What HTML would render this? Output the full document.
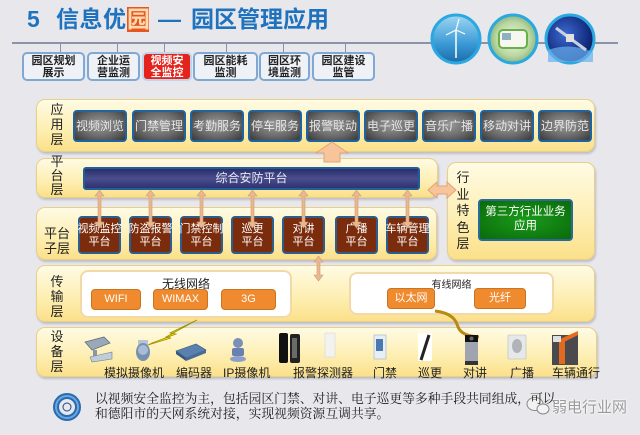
<!DOCTYPE html>
<html><head><meta charset="utf-8">
<style>
*{margin:0;padding:0;box-sizing:border-box}
body{width:640px;height:435px;background:#e8e8ec;position:relative;overflow:hidden;font-family:"Liberation Sans","Noto Sans CJK SC",sans-serif}
.a{position:absolute}
.tt{position:absolute;top:4px;font-size:23px;font-weight:bold;color:#1f72bd;white-space:nowrap;line-height:30px}
.tab{position:absolute;top:52px;height:29px;background:#eef2f7;border:2px solid #80a8d4;border-radius:5px;font-size:11px;font-weight:bold;color:#222;text-align:center;line-height:12px;padding-top:1px}
.tab.red{background:#e4231c;color:#fff;border-color:#c0d4ea}
.tick{position:absolute;top:42px;width:1px;height:10px;background:#8a93a8}
.layer{position:absolute;border-radius:9px;background:linear-gradient(#fffbe4,#fdeeb0 60%,#fbe08a);border:1px solid #e6d08c;box-shadow:1px 2px 2px rgba(0,0,0,0.18)}
.vl{position:absolute;font-size:13px;color:#222;text-align:center;width:16px;line-height:15px}
.app{position:absolute;top:110px;width:54px;height:32px;border:2px solid #1f64a0;border-radius:4px;background:radial-gradient(ellipse at 50% 45%,#9a9a9a 0%,#6a6a6a 55%,#383838 100%);color:#e6e6e6;font-size:12px;text-align:center;line-height:28px;white-space:nowrap;overflow:visible}
.sub{position:absolute;top:216px;width:43px;height:38px;border:2px solid #2b5e8e;border-radius:4px;background:#7b2c0c;color:#fff;font-size:11px;text-align:center;line-height:13px;padding-top:5px;white-space:nowrap;display:flex;flex-direction:column;align-items:center}
.or{position:absolute;height:21px;background:#f08a2e;border:1px solid #c9741f;border-radius:4px;color:#fff;font-size:11px;text-align:center;line-height:19px}
.dev{position:absolute;top:364px;font-size:12px;color:#222;white-space:nowrap}
.wbox{position:absolute;background:#fff;border:2px solid #f3d9a8;border-radius:8px}
</style></head><body>

<div class="tt" style="left:27px">5</div>
<div class="tt" style="left:56px;letter-spacing:0.5px">信息优</div>
<div class="tt" style="left:127px;width:22px;text-align:center;background:#e8551e;color:#ffd9b0;line-height:24px;top:7px;height:25px">园</div>
<div class="tt" style="left:157px;width:25px;text-align:center;overflow:hidden">—</div>
<div class="tt" style="left:191px;letter-spacing:0px">园区管理应用</div>

<div class="a" style="left:12px;top:42px;width:606px;height:2px;background:#8a93a8"></div>
<div class="tick" style="left:60px"></div>
<div class="tick" style="left:117px"></div>
<div class="tick" style="left:164px"></div>
<div class="tick" style="left:226px"></div>
<div class="tick" style="left:283px"></div>
<div class="tick" style="left:345px"></div>

<div class="tab" style="left:22px;width:63px">园区规划<br>展示</div>
<div class="tab" style="left:87px;width:53px">企业运<br>营监测</div>
<div class="tab red" style="left:142px;width:50px">视频安<br>全监控</div>
<div class="tab" style="left:193px;width:65px">园区能耗<br>监测</div>
<div class="tab" style="left:259px;width:51px">园区环<br>境监测</div>
<div class="tab" style="left:312px;width:63px">园区建设<br>监管</div>

<!-- circles -->
<svg class="a" style="left:425px;top:10px" width="180" height="62" viewBox="425 10 180 62">
 <defs>
  <linearGradient id="sky" x1="0" y1="0" x2="0" y2="1"><stop offset="0" stop-color="#9fd6f2"/><stop offset="0.6" stop-color="#3a9ad6"/><stop offset="1" stop-color="#1a6aa8"/></linearGradient>
  <radialGradient id="bus" cx="0.5" cy="0.5" r="0.6"><stop offset="0" stop-color="#f4f6ee"/><stop offset="0.6" stop-color="#b9d6a0"/><stop offset="1" stop-color="#6aa06a"/></radialGradient>
  <radialGradient id="sat" cx="0.4" cy="0.4" r="0.7"><stop offset="0" stop-color="#3a6ad0"/><stop offset="0.7" stop-color="#142c80"/><stop offset="1" stop-color="#0a1650"/></radialGradient>
 </defs>
 <circle cx="456" cy="39" r="24" fill="url(#sky)" stroke="#2aa8e0" stroke-width="3"/>
 <line x1="456" y1="30" x2="456" y2="58" stroke="#fff" stroke-width="1.5"/>
 <line x1="456" y1="30" x2="446" y2="35" stroke="#fff" stroke-width="1.2"/>
 <line x1="456" y1="30" x2="459" y2="19" stroke="#fff" stroke-width="1.2"/>
 <line x1="456" y1="30" x2="465" y2="34" stroke="#fff" stroke-width="1.2"/>
 <circle cx="513" cy="39" r="24" fill="url(#bus)" stroke="#2aa8e0" stroke-width="3"/>
 <rect x="499" y="30" width="28" height="18" rx="4" fill="#f6f8f0" stroke="#6ab04a" stroke-width="2"/>
 <rect x="502" y="33" width="9" height="7" fill="#8fb0c0"/>
 <circle cx="570" cy="39" r="24" fill="url(#sat)" stroke="#2aa8e0" stroke-width="3"/>
 <path d="M548 50 Q570 42 593 52 L593 62 L548 62Z" fill="#6ab0f0" opacity="0.7"/>
 <line x1="556" y1="28" x2="586" y2="50" stroke="#c8d0e0" stroke-width="3"/>
 <rect x="566" y="34" width="8" height="8" fill="#e0e0e0"/>
</svg>

<!-- layers -->
<div class="layer" style="left:36px;top:99px;width:559px;height:53px"></div>
<div class="layer" style="left:36px;top:158px;width:402px;height:40px"></div>
<div class="layer" style="left:447px;top:162px;width:148px;height:98px"></div>
<div class="layer" style="left:36px;top:207px;width:401px;height:53px"></div>
<div class="layer" style="left:36px;top:265px;width:559px;height:57px"></div>
<div class="layer" style="left:36px;top:327px;width:561px;height:50px"></div>

<!-- vertical labels -->
<div class="vl" style="left:49px;top:102px">应<br>用<br>层</div>
<div class="vl" style="left:49px;top:155px;line-height:14px">平<br>台<br>层</div>
<div class="vl" style="left:43px;top:226px;width:28px">平台<br>子层</div>
<div class="vl" style="left:49px;top:274px">传<br>输<br>层</div>
<div class="vl" style="left:49px;top:329px">设<br>备<br>层</div>
<div class="vl" style="left:455px;top:170px;line-height:16.5px">行<br>业<br>特<br>色<br>层</div>

<!-- app boxes -->
<div class="app" style="left:73px">视频浏览</div>
<div class="app" style="left:132px">门禁管理</div>
<div class="app" style="left:190px">考勤服务</div>
<div class="app" style="left:248px">停车服务</div>
<div class="app" style="left:306px">报警联动</div>
<div class="app" style="left:364px">电子巡更</div>
<div class="app" style="left:422px">音乐广播</div>
<div class="app" style="left:480px">移动对讲</div>
<div class="app" style="left:538px">边界防范</div>

<!-- platform bar -->
<div class="a" style="left:83px;top:167px;width:337px;height:23px;border:2px solid #1f5f9a;border-radius:3px;background:linear-gradient(#2a2e6a,#4a4e8e 50%,#2e3270);color:#e8e8f0;font-size:12px;text-align:center;line-height:19px">综合安防平台</div>

<!-- green box -->
<div class="a" style="left:478px;top:199px;width:95px;height:42px;border:2px solid #2a6a9a;border-radius:4px;background:radial-gradient(ellipse at 50% 50%,#1a9a1a,#0a6a0a);color:#fff;font-size:11.5px;text-align:center;line-height:14px;padding-top:4px">第三方行业业务<br>应用</div>

<!-- sub boxes -->
<div class="sub" style="left:78px"><span>视频监控</span><span>平台</span></div>
<div class="sub" style="left:129px"><span>防盗报警</span><span>平台</span></div>
<div class="sub" style="left:180px"><span>门禁控制</span><span>平台</span></div>
<div class="sub" style="left:231px"><span>巡更</span><span>平台</span></div>
<div class="sub" style="left:282px"><span>对讲</span><span>平台</span></div>
<div class="sub" style="left:335px"><span>广播</span><span>平台</span></div>
<div class="sub" style="left:386px"><span>车辆管理</span><span>平台</span></div>

<!-- transmission -->
<div class="wbox" style="left:80px;top:270px;width:212px;height:48px"></div>
<div class="a" style="left:80px;top:275px;width:212px;text-align:center;font-size:12px;color:#222">无线网络</div>
<div class="or" style="left:91px;top:289px;width:50px">WIFI</div>
<div class="or" style="left:153px;top:289px;width:55px">WIMAX</div>
<div class="or" style="left:221px;top:289px;width:55px">3G</div>

<div class="wbox" style="left:349px;top:272px;width:205px;height:43px"></div>
<div class="a" style="left:349px;top:276px;width:205px;text-align:center;font-size:10px;color:#222">有线网络</div>
<div class="or" style="left:387px;top:288px;width:48px">以太网</div>
<div class="or" style="left:474px;top:288px;width:52px">光纤</div>

<!-- device labels -->
<div class="dev" style="left:104px">模拟摄像机</div>
<div class="dev" style="left:176px">编码器</div>
<div class="dev" style="left:223px">IP摄像机</div>
<div class="dev" style="left:293px">报警探测器</div>
<div class="dev" style="left:373px">门禁</div>
<div class="dev" style="left:418px">巡更</div>
<div class="dev" style="left:463px">对讲</div>
<div class="dev" style="left:510px">广播</div>
<div class="dev" style="left:552px">车辆通行</div>

<!-- arrows, icons -->
<svg class="a" style="left:0;top:0" width="640" height="435">
 <!-- big up arrow -->
 <path d="M332 142 L348 153 L340 153 L340 162 L324 162 L324 153 L316 153 Z" fill="#f8c59a" stroke="#e0a478" stroke-width="1"/>
 <!-- horizontal double arrow -->
 <path d="M428 190 L437 182 L437 186 L447 186 L447 182 L456 190 L447 198 L447 194 L437 194 L437 198 Z" fill="#f8c59a" stroke="#e0a478" stroke-width="1"/>
 <!-- vertical double arrows -->
 <g fill="#e9b890" stroke="#d09a70" stroke-width="0.6">
  <path d="M99.5 190 L104 196 L101 196 L101 222 L104 222 L99.5 228 L95 222 L98 222 L98 196 L95 196Z"/>
  <path d="M150.5 190 L155 196 L152 196 L152 222 L155 222 L150.5 228 L146 222 L149 222 L149 196 L146 196Z"/>
  <path d="M201.5 190 L206 196 L203 196 L203 222 L206 222 L201.5 228 L197 222 L200 222 L200 196 L197 196Z"/>
  <path d="M252.5 190 L257 196 L254 196 L254 222 L257 222 L252.5 228 L248 222 L251 222 L251 196 L248 196Z"/>
  <path d="M303.5 190 L308 196 L305 196 L305 222 L308 222 L303.5 228 L299 222 L302 222 L302 196 L299 196Z"/>
  <path d="M356.5 190 L361 196 L358 196 L358 222 L361 222 L356.5 228 L352 222 L355 222 L355 196 L352 196Z"/>
  <path d="M407.5 190 L412 196 L409 196 L409 222 L412 222 L407.5 228 L403 222 L406 222 L406 196 L403 196Z"/>
  <path d="M318.5 256 L323 262 L320 262 L320 275 L323 275 L318.5 281 L314 275 L317 275 L317 262 L314 262Z"/>
 </g>
 <!-- lightning -->
 <path d="M197 320 L170 333 L176 334 L152 343 L148 345 L171 338 L166 337 L197 320Z" fill="#f5e000" stroke="#a09000" stroke-width="0.8"/>
 <line x1="148" y1="345" x2="138" y2="350" stroke="#222" stroke-width="1"/>
 <!-- wired curve -->
 <path d="M435 311 C452 313 456 320 458 327 C461 334 468 336 479 337" fill="none" stroke="#b88a10" stroke-width="3"/>
 <!-- devices -->
 <g>
  <path d="M85 342 L104 337 L110 343 L92 350Z" fill="#9aa8b8" stroke="#607080" stroke-width="0.8"/>
  <rect x="93" y="350" width="4" height="8" fill="#8898a8"/>
  <path d="M90 357 L112 352 L112 359 L92 362Z" fill="#c0ccd8" stroke="#708090" stroke-width="0.6"/>
  <rect x="138" y="340" width="10" height="6" fill="#b8c4d0"/>
  <ellipse cx="143" cy="352" rx="7" ry="9" fill="#7890b0"/>
  <ellipse cx="143" cy="350" rx="5" ry="5" fill="#a8bcd8"/>
  <path d="M176 351 L196 344 L206 350 L186 358Z" fill="#5a80b0" stroke="#385880" stroke-width="0.6"/>
  <path d="M176 351 L186 358 L186 361 L176 354Z" fill="#385880"/>
  <path d="M186 358 L206 350 L206 353 L186 361Z" fill="#4a6a98"/>
  <circle cx="238" cy="343" r="5" fill="#7a90b8"/>
  <rect x="232" y="348" width="12" height="8" rx="2" fill="#6a80b0"/>
  <ellipse cx="238" cy="359" rx="8" ry="3" fill="#8aa0c8"/>
  <rect x="279" y="333" width="9" height="30" rx="2" fill="#111"/>
  <rect x="290" y="334" width="10" height="29" rx="2" fill="#222"/>
  <rect x="292" y="338" width="5" height="20" fill="#6a6a6a"/>
  <rect x="325" y="333" width="10" height="24" fill="#f2f2f0" stroke="#d8d8d8" stroke-width="0.6"/>
  <rect x="374" y="335" width="12" height="24" fill="#e8eef6" stroke="#a0b0c8" stroke-width="0.6"/>
  <rect x="376" y="339" width="7" height="12" fill="#4a78b0"/>
  <rect x="418" y="333" width="14" height="28" fill="#fff"/>
  <line x1="429" y1="335" x2="421" y2="360" stroke="#222" stroke-width="3"/>
  <rect x="465" y="335" width="13" height="30" fill="#a0a4b0"/>
  <rect x="465" y="335" width="13" height="7" fill="#111"/>
  <circle cx="471.5" cy="338.5" r="2" fill="#666"/>
  <rect x="465" y="361" width="13" height="4" fill="#333"/>
  <rect x="508" y="335" width="18" height="24" rx="1" fill="#e6e8ea" stroke="#b8bcc0" stroke-width="0.6"/>
  <ellipse cx="517" cy="346" rx="5" ry="7" fill="#b0b4b8"/>
  <rect x="552" y="335" width="26" height="30" fill="#4a4a4e"/>
  <rect x="559" y="340" width="6" height="24" fill="#e06a20"/>
  <path d="M560 339 L578 331 L578 335 L562 343Z" fill="#e86a20"/>
  <rect x="553" y="336" width="8" height="6" fill="#e0e0e0"/>
 </g>
 <!-- bottom ring -->
 <circle cx="67" cy="407" r="11" fill="none" stroke="#2a6ab0" stroke-width="6"/>
 <circle cx="67" cy="407" r="11" fill="none" stroke="#6aa8e0" stroke-width="2"/>
 <circle cx="67" cy="407" r="4" fill="#e8e8ec" stroke="#1a4a88" stroke-width="1"/>
 <!-- watermark icon -->
 <ellipse cx="535" cy="404" rx="8" ry="6.5" fill="#f2f2f2" stroke="#888" stroke-width="1"/>
 <ellipse cx="543" cy="409" rx="6" ry="5" fill="#f2f2f2" stroke="#888" stroke-width="1"/>
</svg>

<div class="a" style="left:95px;top:392px;font-family:'Liberation Serif','Noto Serif CJK SC',serif;font-size:12.8px;line-height:15px;color:#222;white-space:nowrap">以视频安全监控为主，包括园区门禁、对讲、电子巡更等多种手段共同组成，可以<br>和德阳市的天网系统对接，实现视频资源互调共享。</div>
<div class="a" style="left:552px;top:396px;font-size:15px;color:#9a9a9a;white-space:nowrap;text-shadow:0 0 2px #fff,0 0 2px #fff">弱电行业网</div>

</body></html>
